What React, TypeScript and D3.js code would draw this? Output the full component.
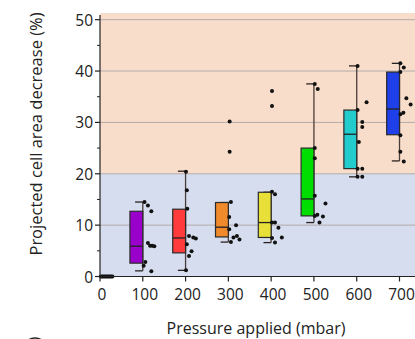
import React from 'react';
import * as d3 from 'd3';

// pressure categories (mbar)
const categories = [0, 100, 200, 300, 400, 500, 600, 700];
const boxColors = ['#000000', '#9900cc', '#ff3b3b', '#f08a2a', '#e8e038', '#00dd00', '#22cccc', '#1f3fe8'];

// box stats per category (%)
const q1 = [0, 2.6, 4.6, 7.7, 7.6, 11.8, 21.0, 27.6];
const median = [0, 5.9, 7.5, 9.6, 10.5, 15.1, 27.7, 32.6];
const q3 = [0, 12.7, 13.1, 14.4, 16.4, 25.0, 32.4, 39.8];
const whiskerLow = [0, 1.1, 1.2, 6.7, 6.6, 10.5, 19.4, 22.5];
const whiskerHigh = [0, 14.5, 20.5, 14.4, 16.4, 37.5, 41.0, 41.5];

// individual measurements per category (%)
const points = [
    [0, 0, 0, 0, 0, 0, 0, 0, 0, 0],
    [14.5, 13.8, 12.7, 6.5, 6.0, 6.0, 5.9, 2.8, 2.1, 1.0],
    [20.4, 16.8, 13.2, 7.9, 7.6, 7.4, 6.3, 4.9, 4.0, 1.2],
    [30.2, 24.3, 14.5, 11.6, 10.0, 9.2, 7.9, 7.6, 7.2, 6.7],
    [36.1, 33.2, 16.5, 16.0, 10.5, 10.5, 9.5, 7.5, 7.6, 6.6],
    [37.5, 36.5, 25.0, 23.0, 15.7, 14.2, 12.0, 11.8, 11.7, 10.5],
    [41.0, 33.9, 32.4, 30.1, 29.1, 26.2, 21.0, 21.0, 19.4, 19.4],
    [41.5, 40.7, 39.8, 34.7, 33.5, 31.9, 31.6, 27.5, 24.3, 22.4]
];
// horizontal scatter of the points to the right of each tick (mbar)
const jitter = [
    [2, 5, 8, 11, 14, 17, 20, 23, 26, 29],
    [4, 12, 20, 12, 17, 22, 27, 6, 2, 20],
    [1, 3, 4, 8, 18, 24, 3, 14, 8, 1],
    [3, 3, 6, 2, 18, 2, 20, 12, 26, 6],
    [2, 2, 2, 9, 2, 9, 17, 2, 25, 9],
    [2, 9, 2, 2, 2, 27, 8, 2, 21, 13],
    [2, 23, 2, 13, 13, 5, 2, 13, 2, 13],
    [2, 10, 2, 16, 26, 9, 2, 2, 2, 10]
];

const yTicks = [0, 10, 20, 30, 40, 50];
const yMinorTicks = [5, 15, 25, 35, 45];
const threshold = 20;
const boxWidth = 30; // mbar
const capWidth = 18; // mbar

const font = "'Open Sans', sans-serif";

export default function App() {
    const width = 415;
    const height = 339;
    const left = 100;

    const x = d3.scaleLinear().domain([0, 700]).range([100, 399.5]);
    const y = d3.scaleLinear().domain([0, 51.3]).range([276.5, 13]);

    return (
        <div style={{ position: 'absolute', left: 0, top: 0 }}>
            <svg width={width} height={height} style={{ display: 'block', background: 'white' }}>
                <rect x={left} y={y(51.3)} width={width - left} height={y(threshold) - y(51.3)} fill="#f9ddcb" />
                <rect x={left} y={y(threshold)} width={width - left} height={y(0) - y(threshold)} fill="#d5ddef" />
                {yTicks.filter(t => t > 0).map(t => (
                    <line key={'g' + t} x1={left} x2={width} y1={y(t)} y2={y(t)} stroke="#b4aca8" strokeWidth={1} />
                ))}

                {categories.map((c, i) => (
                    <g key={'box' + c}>
                        {c > 0 && <>
                            <line x1={x(c)} x2={x(c)} y1={y(whiskerLow[i])} y2={y(whiskerHigh[i])} stroke="#4a3c36" strokeWidth={1.3} />
                            <line x1={x(c - capWidth)} x2={x(c)} y1={y(whiskerLow[i])} y2={y(whiskerLow[i])} stroke="#2a2220" strokeWidth={1.3} />
                            <line x1={x(c - capWidth)} x2={x(c)} y1={y(whiskerHigh[i])} y2={y(whiskerHigh[i])} stroke="#2a2220" strokeWidth={1.3} />
                            <rect x={x(c - boxWidth)} y={y(q3[i])} width={x(c) - x(c - boxWidth)} height={y(q1[i]) - y(q3[i])}
                                fill={boxColors[i]} stroke="#2a2a2a" strokeWidth={1.2} />
                            <line x1={x(c - boxWidth)} x2={x(c)} y1={y(median[i])} y2={y(median[i])} stroke="#222" strokeWidth={1.3} />
                        </>}
                        {points[i].map((v, j) => (
                            <circle key={j} cx={x(c + jitter[i][j])} cy={y(v)} r={2} fill="#111" />
                        ))}
                    </g>
                ))}

                {/* axes */}
                <line x1={left} x2={left} y1={15} y2={y(0)} stroke="#222" strokeWidth={1.2} />
                <line x1={left} x2={width} y1={y(0)} y2={y(0)} stroke="#222" strokeWidth={1.2} />
                {yTicks.map(t => (
                    <g key={'yt' + t}>
                        <line x1={left - 5} x2={left} y1={y(t)} y2={y(t)} stroke="#222" strokeWidth={1.2} />
                        <text x={left - 7} y={y(t)} textAnchor="end" dominantBaseline="central"
                            fontFamily={font} fontSize={15.5} fill="#222">{t}</text>
                    </g>
                ))}
                {yMinorTicks.map(t => (
                    <line key={'ym' + t} x1={left - 3} x2={left} y1={y(t)} y2={y(t)} stroke="#222" strokeWidth={1} />
                ))}
                {categories.map(c => (
                    <g key={'xt' + c}>
                        <line x1={x(c)} x2={x(c)} y1={y(0)} y2={y(0) + 5} stroke="#222" strokeWidth={1.2} />
                        <text x={x(c) + 2} y={294} textAnchor="middle" dominantBaseline="central"
                            fontFamily={font} fontSize={15.5} fill="#222">{c}</text>
                    </g>
                ))}

                <text x={256} y={328} textAnchor="middle" dominantBaseline="central"
                    fontFamily={font} fontSize={16} fill="#222">Pressure applied (mbar)</text>
                <text transform={`translate(35,${134}) rotate(-90)`} textAnchor="middle" dominantBaseline="central"
                    fontFamily={font} fontSize={16.5} fill="#222">Projected cell area decrease (%)</text>
                <circle cx={35} cy={350} r={12} fill="none" stroke="#222" strokeWidth={1.5} />
            </svg>
        </div>
    );
}
